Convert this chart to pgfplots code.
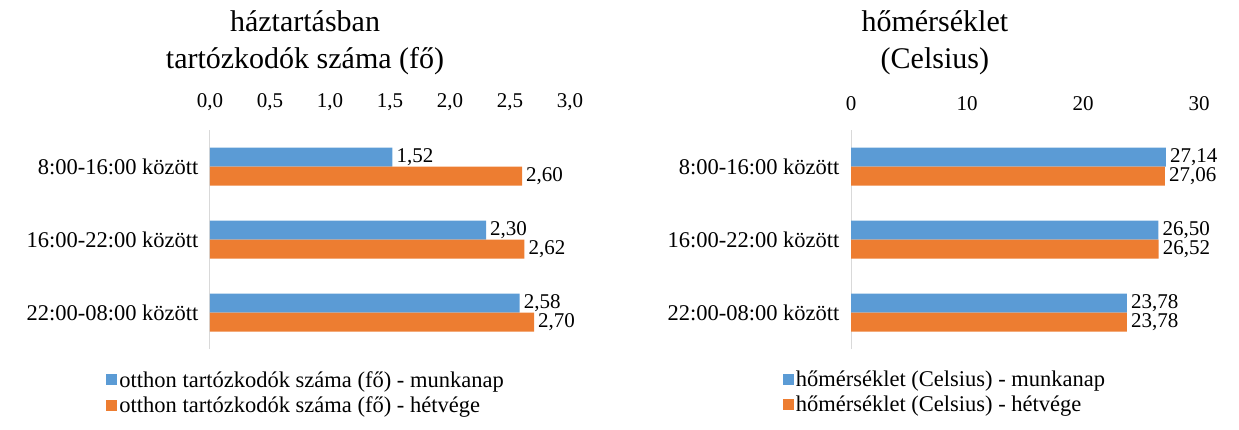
\documentclass[border=0pt]{standalone}
\usepackage{pgfplots}
\pgfplotsset{compat=1.18}
\usepackage{fontspec}
\setmainfont{Liberation Serif}
\definecolor{cblue}{HTML}{5B9BD5}
\definecolor{corange}{HTML}{ED7D31}
\newcommand{\tickfont}{\fontsize{21}{25}\selectfont}
\newcommand{\lblfont}{\fontsize{22.5}{27}\selectfont}
\newcommand{\valfont}{\fontsize{21}{24}\selectfont}
\newcommand{\ttlfont}{\fontsize{30}{37}\selectfont}
\pgfplotsset{
 mystyle/.style={
  xbar, scale only axis, height=219pt,
  /pgf/number format/assume math mode=true,
  ymin=-0.5, ymax=2.5, ytick={0,1,2},
  yticklabels={22:00-08:00 között,16:00-22:00 között,8:00-16:00 között},
  axis x line*=top, axis y line*=left,
  x axis line style={draw=none},
  y axis line style={draw=black!15, line width=1pt, -},
  major tick length=0pt, tick style={draw=none},
  xticklabel style={font=\tickfont, yshift=16pt},
  yticklabel style={font=\lblfont, xshift=-8pt},
  bar width=19pt,
  point meta=x,
  nodes near coords={\pgfmathprintnumber[fixed,fixed zerofill,precision=2,use comma,assume math mode=true]{\pgfplotspointmeta}},
  every node near coord/.append style={anchor=west, font=\valfont, inner sep=0pt, xshift=4pt},
  legend image code/.code={\fill[##1,draw=none] (0pt,-5.5pt) rectangle (11pt,5.5pt);},
  legend cell align=left,
  legend style={anchor=north, yshift=-20pt,
    draw=none, fill=none, font=\lblfont, inner sep=0pt, row sep=4pt,
    nodes={inner sep=2pt}},
  title style={font=\ttlfont, align=center, anchor=center, yshift=81pt},
 }
}
\begin{document}
\begin{tikzpicture}
\begin{axis}[mystyle, width=360pt, xmin=0, xmax=3, xtick={0,0.5,1,1.5,2,2.5,3},
  xticklabel={\pgfmathprintnumber[fixed,fixed zerofill,precision=1,use comma,assume math mode=true]{\tick}},
  title={háztartásban\\tartózkodók száma (fő)},
  title style={at={(axis description cs:0.264,1)}},
  legend style={at={(axis description cs:0.267,0)}}]
\addplot[fill=cblue, draw=none, bar shift=9.5pt] coordinates {(2.58,0) (2.30,1) (1.52,2)};
\addplot[fill=corange, draw=none, bar shift=-9.5pt] coordinates {(2.70,0) (2.62,1) (2.60,2)};
\legend{otthon tartózkodók száma (fő) - munkanap, otthon tartózkodók száma (fő) - hétvége}
\end{axis}
\begin{axis}[mystyle, at={(641pt,0pt)}, width=348pt, xmin=0, xmax=30, xtick={0,10,20,30},
  title={hőmérséklet\\(Celsius)},
  title style={at={(axis description cs:0.241,1)}},
  legend style={at={(axis description cs:0.27,0)}}]
\addplot[fill=cblue, draw=none, bar shift=9.5pt] coordinates {(23.78,0) (26.50,1) (27.14,2)};
\addplot[fill=corange, draw=none, bar shift=-9.5pt] coordinates {(23.78,0) (26.52,1) (27.06,2)};
\legend{hőmérséklet (Celsius) - munkanap, hőmérséklet (Celsius) - hétvége}
\end{axis}
\path[use as bounding box] (-210pt,-80pt) rectangle (1029pt,349pt);
\end{tikzpicture}
\end{document}
